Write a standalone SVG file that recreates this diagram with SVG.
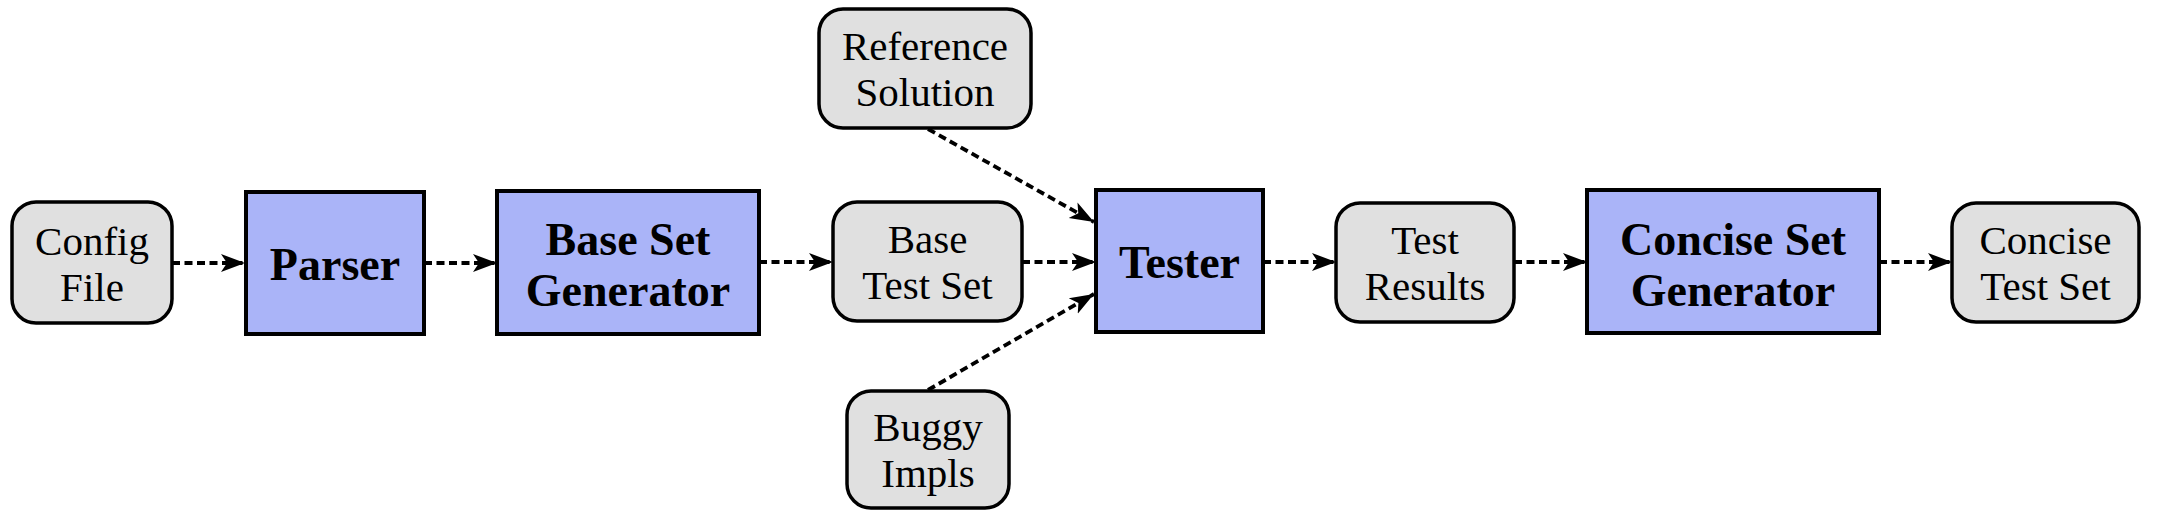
<svg xmlns="http://www.w3.org/2000/svg" width="2160" height="528" viewBox="0 0 2160 528">
<style>
.g{fill:#e0e0e0;stroke:#000;stroke-width:3.5}
.b{fill:#aab4f8;stroke:#000;stroke-width:4}
.t{font-family:"Liberation Serif","Times New Roman",serif;font-size:41px;text-anchor:middle;fill:#000}
.tb{font-family:"Liberation Serif","Times New Roman",serif;font-size:46px;font-weight:bold;text-anchor:middle;fill:#000}
.e{stroke:#000;stroke-width:3.8;stroke-dasharray:8 4.5;fill:none;marker-end:url(#ah)}
</style>
<defs>
<marker id="ah" markerUnits="userSpaceOnUse" markerWidth="26" markerHeight="20" refX="24" refY="9" orient="auto" viewBox="0 0 26 18">
<path d="M0,0 L24,9 L0,18 L6,9 z" fill="#000"/>
</marker>
</defs>
<rect width="2160" height="528" fill="#fff"/>
<g id="edges">
<line class="e" x1="172" y1="263" x2="245" y2="263"/>
<line class="e" x1="424" y1="263" x2="497" y2="263"/>
<line class="e" x1="759" y1="262" x2="833" y2="262"/>
<line class="e" x1="1022" y1="262" x2="1096" y2="262"/>
<line class="e" x1="928" y1="129" x2="1094" y2="222"/>
<line class="e" x1="928" y1="390" x2="1094" y2="294"/>
<line class="e" x1="1263" y1="262" x2="1336" y2="262"/>
<line class="e" x1="1514" y1="262" x2="1587" y2="262"/>
<line class="e" x1="1879" y1="262" x2="1952" y2="262"/>
</g>
<g id="config">
<rect class="g" x="12" y="202" width="160" height="121" rx="24"/>
<text class="t"><tspan x="92" y="255">Config</tspan><tspan x="92" y="300.5">File</tspan></text>
</g>
<g id="parser">
<rect class="b" x="246" y="192" width="178" height="142"/>
<text class="tb" x="335" y="280">Parser</text>
</g>
<g id="basegen">
<rect class="b" x="497" y="191" width="262" height="143"/>
<text class="tb"><tspan x="628" y="254.5">Base Set</tspan><tspan x="628" y="305.5">Generator</tspan></text>
</g>
<g id="basetest">
<rect class="g" x="833" y="202" width="189" height="119" rx="24"/>
<text class="t"><tspan x="927.5" y="253.25">Base</tspan><tspan x="927.5" y="298.75">Test Set</tspan></text>
</g>
<g id="reference">
<rect class="g" x="819" y="9" width="212" height="119" rx="24"/>
<text class="t"><tspan x="925" y="60.25">Reference</tspan><tspan x="925" y="105.75">Solution</tspan></text>
</g>
<g id="buggy">
<rect class="g" x="847" y="391" width="162" height="117" rx="24"/>
<text class="t"><tspan x="928" y="441.25">Buggy</tspan><tspan x="928" y="486.75">Impls</tspan></text>
</g>
<g id="tester">
<rect class="b" x="1096" y="190" width="167" height="142"/>
<text class="tb" x="1179.5" y="278">Tester</text>
</g>
<g id="results">
<rect class="g" x="1336" y="203" width="178" height="119" rx="24"/>
<text class="t"><tspan x="1425" y="254.25">Test</tspan><tspan x="1425" y="299.75">Results</tspan></text>
</g>
<g id="concisegen">
<rect class="b" x="1587" y="190" width="292" height="143"/>
<text class="tb"><tspan x="1733" y="254.5">Concise Set</tspan><tspan x="1733" y="305.5">Generator</tspan></text>
</g>
<g id="concisetest">
<rect class="g" x="1952" y="203" width="187" height="119" rx="24"/>
<text class="t"><tspan x="2045.5" y="254.25">Concise</tspan><tspan x="2045.5" y="299.75">Test Set</tspan></text>
</g>
</svg>
